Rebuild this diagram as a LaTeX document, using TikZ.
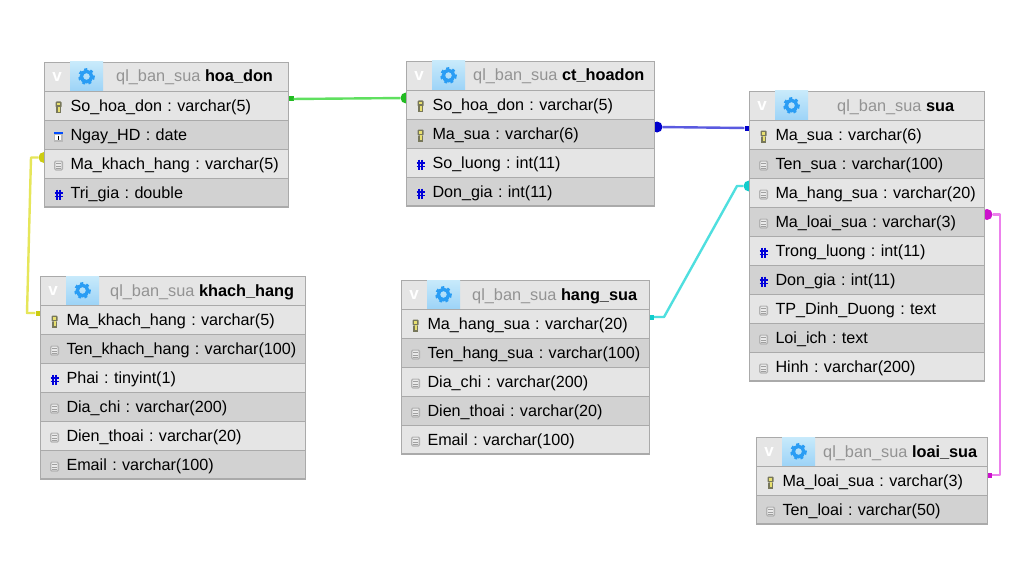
\documentclass[tikz,border=0pt]{standalone}
\usepackage{fontspec}
\setmainfont{Liberation Sans}
\frenchspacing
\definecolor{rowa}{HTML}{E5E5E5}
\definecolor{rowb}{HTML}{D2D2D2}
\definecolor{bord}{HTML}{AAAAAA}
\definecolor{gearc}{HTML}{2A9DF4}
\definecolor{gtop}{HTML}{C8EAFB}
\definecolor{gbot}{HTML}{9CD3F7}
\definecolor{cgreen}{HTML}{5FE05F}
\definecolor{dgreen}{HTML}{22BB22}
\definecolor{cblue}{HTML}{5A5AE0}
\definecolor{dblue}{HTML}{0000CC}
\definecolor{ccyan}{HTML}{4FDFDF}
\definecolor{dcyan}{HTML}{11CCCC}
\definecolor{cyel}{HTML}{E6E65A}
\definecolor{dyel}{HTML}{CCCC11}
\definecolor{cmag}{HTML}{EC80EC}
\definecolor{dmag}{HTML}{CC11CC}
\definecolor{keyo}{HTML}{77775A}
\definecolor{keyy}{HTML}{E8E070}
\tikzset{
  x=1pt,y=-1pt,
  txt/.style={font=\fontsize{16.15}{18}\selectfont,text=black},
  rowbox/.style={draw=bord,line width=1,inner xsep=0,inner ysep=0,minimum height=29,
    txt,align=left,text height=13,text depth=2,anchor=north west},
  headbox/.style={draw=bord,line width=1,fill=rowa,inner sep=0,minimum height=29,anchor=north west},
  titletext/.style={font=\fontsize{16.3}{18}\selectfont,text=black,anchor=west,inner sep=0,text height=13,text depth=2},
  vtext/.style={anchor=center,inner sep=0,font=\fontsize{17}{18}\selectfont\bfseries,text=white},
  link/.style={line width=2.4,line join=round},
  sq/.style={rectangle,inner sep=0,minimum size=5},
  blob/.style={circle,inner sep=0,minimum size=11},
  keyicon/.pic={
    \fill[keyo,rounded corners=1] (-3,-6) rectangle (3,0);
    \fill[keyy] (-1.5,-4.5) rectangle (1.5,-2);
    \fill[keyo] (-2.2,0) rectangle (2.2,6);
    \fill[keyy] (-0.8,-0.5) rectangle (1,4.5);
  },
  docicon/.pic={
    \fill[rounded corners=1.5,gray!60] (-4.5,-5) rectangle (4.5,5);
    \fill[rounded corners=1,rowa!80!white] (-3.2,-3.8) rectangle (3.2,3.8);
    \draw[gray!75,line width=0.9] (-2.2,-1.6) -- (2.2,-1.6) (-2.2,0.6) -- (2.2,0.6) (-2.2,2.6) -- (2.2,2.6);
  },
  hashicon/.pic={
    \draw[blue!85!black,line width=1.6] (-1.7,-5) -- (-1.7,5) (1.7,-5) -- (1.7,5) (-4,-1.8) -- (4,-1.8) (-4,1.8) -- (4,1.8);
  },
  calicon/.pic={
    \fill[gray!55] (-4.5,-5) rectangle (4,5);
    \fill[white] (-3.2,-2) rectangle (2.8,3.8);
    \fill[blue!70!cyan] (-4.5,-5) rectangle (4,-2.2);
    \draw[black,line width=1] (0,-1) -- (0,3.3);
  },
  gearicon/.pic={
    \draw[gearc,line width=3.4] (0,0) circle (5.2);
    \draw[gearc,line width=2.2,dash pattern=on 3 off 3.28] (0,0) circle (7.2);
  },
}
\newcommand{\CURT}{}
\newcommand{\dbtitle}[3]{\pgfmathsetmacro{\YT}{#2+14.5}\node[titletext] (#1-title) at (#3,\YT) {\color{gray!85}ql\_ban\_sua \color{black}\bfseries\CURT};}
% id, x0, y0, width, title x, rows
\newcommand{\dbtable}[6]{%
  \pgfmathsetmacro{\XR}{#2+26}%
  \pgfmathsetmacro{\XK}{#2+14.5}%
  \pgfmathsetmacro{\YM}{#3+14.5}%
  \pgfmathsetmacro{\YV}{#3+15}%
  \node[headbox,minimum width=#4] (#1-head) at (#2,#3) {};
  \fill[top color=gtop,bottom color=gbot] (\XR,#3) rectangle ++(33,29);
  \node[vtext] (#1-v) at (#2+13,\YV) {v};
  \pic at (\XR+16.5,\YM) {gearicon};
  \foreach \ic/\txt [count=\i from 0] in {#6}{%
    \pgfmathsetmacro{\YR}{#3+29+29*\i}%
    \pgfmathsetmacro{\YI}{\YR+16.5}%
    \pgfmathparse{int(mod(\i,2))}%
    \ifnum\pgfmathresult=0 \def\rc{rowa}\else\def\rc{rowb}\fi
    \node[rowbox,fill=\rc,text width=#4] (#1-r\i) at (#2,\YR) {\hspace*{26pt}\txt};
    \pic at (\XK,\YI) {\ic icon};
    \xdef\YEND{\YR}%
  }%
  \pgfmathsetmacro{\YB}{\YEND+29}%
  \draw[bord,line width=2] (#2,\YB) -- ++(#4,0);
  \dbtitle{#1}{#3}{#5}
}
\begin{document}
\begin{tikzpicture}
\useasboundingbox (0,0) rectangle (1032,575);
\fill[white] (0,0) rectangle (1032,575);
% connector ends
\node[sq,fill=dgreen] (ga) at (291,99) {};
\node[blob,fill=dgreen] (gb) at (406,98) {};
\node[blob,fill=dblue] (ba) at (657,127) {};
\node[sq,fill=dblue] (bb) at (747,128) {};
\node[sq,fill=dcyan] (ca) at (651.5,317) {};
\node[blob,fill=dcyan] (cb) at (749,186) {};
\node[blob,fill=dyel] (ya) at (44,157.5) {};
\node[sq,fill=dyel] (yb) at (38,313) {};
\node[blob,fill=dmag] (ma) at (987,214.5) {};
\node[sq,fill=dmag] (mb) at (989.5,475) {};
\coordinate (c1) at (664,317);
\coordinate (c2) at (737,186);
\coordinate (y1) at (31,157.5);
\coordinate (y2) at (27,313);
\coordinate (m1) at (1000,214.5);
\coordinate (m2) at (1000,475);
\draw[link,cgreen] (ga) -- (gb);
\draw[link,cblue] (ba) -- (bb);
\draw[link,ccyan] (ca) -- (c1) -- (c2) -- (cb);
\draw[link,cyel] (ya) -- (y1) -- (y2) -- (yb);
\draw[link,cmag] (ma) -- (m1) -- (m2) -- (mb);
% tables
\renewcommand{\CURT}{hoa\_don}
\dbtable{hd}{44}{62}{244}{116}{key/So\_hoa\_don : varchar(5),cal/Ngay\_HD : date,doc/Ma\_khach\_hang : varchar(5),hash/Tri\_gia : double}
\renewcommand{\CURT}{ct\_hoadon}
\dbtable{ct}{406}{61}{248}{473}{key/So\_hoa\_don : varchar(5),key/Ma\_sua : varchar(6),hash/So\_luong : int(11),hash/Don\_gia : int(11)}
\renewcommand{\CURT}{sua}
\dbtable{su}{749}{91}{235}{837}{key/Ma\_sua : varchar(6),doc/Ten\_sua : varchar(100),doc/Ma\_hang\_sua : varchar(20),doc/Ma\_loai\_sua : varchar(3),hash/Trong\_luong : int(11),hash/Don\_gia : int(11),doc/TP\_Dinh\_Duong : text,doc/Loi\_ich : text,doc/Hinh : varchar(200)}
\renewcommand{\CURT}{khach\_hang}
\dbtable{kh}{40}{276}{265}{110}{key/Ma\_khach\_hang : varchar(5),doc/Ten\_khach\_hang : varchar(100),hash/Phai : tinyint(1),doc/Dia\_chi : varchar(200),doc/Dien\_thoai : varchar(20),doc/Email : varchar(100)}
\renewcommand{\CURT}{hang\_sua}
\dbtable{hs}{401}{280}{248}{472}{key/Ma\_hang\_sua : varchar(20),doc/Ten\_hang\_sua : varchar(100),doc/Dia\_chi : varchar(200),doc/Dien\_thoai : varchar(20),doc/Email : varchar(100)}
\renewcommand{\CURT}{loai\_sua}
\dbtable{ls}{756}{437}{231}{823}{key/Ma\_loai\_sua : varchar(3),doc/Ten\_loai : varchar(50)}
\end{tikzpicture}
\end{document}
